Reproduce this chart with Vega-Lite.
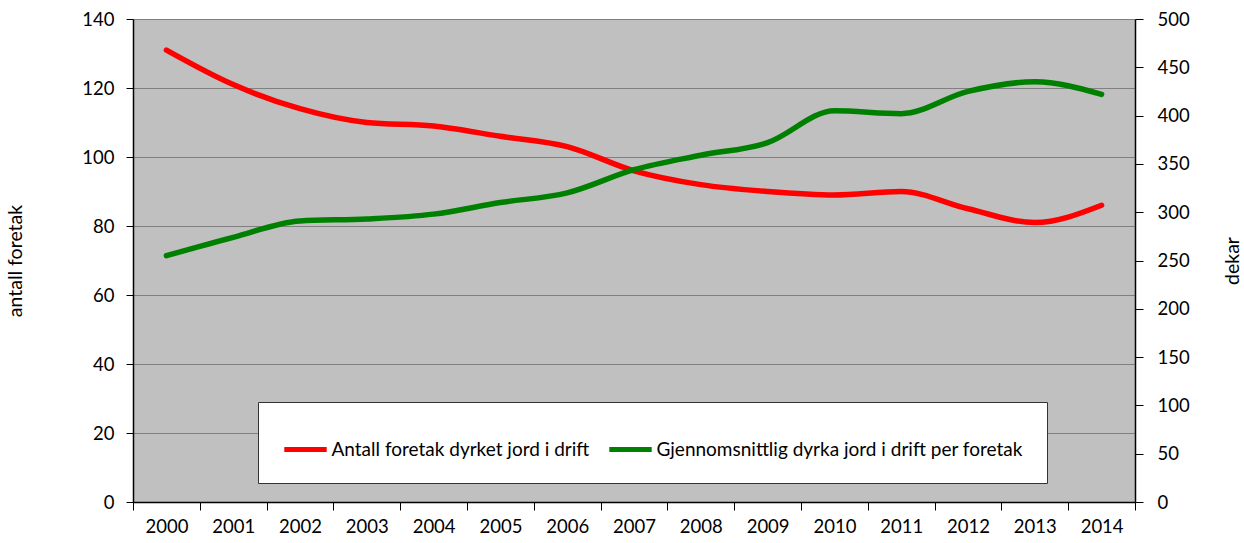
{
  "$schema": "https://vega.github.io/schema/vega-lite/v6.json",
  "width": 1002,
  "height": 483,
  "autosize": "none",
  "padding": {"left": 133, "top": 19, "right": 109, "bottom": 41},
  "background": "white",
  "config": {
    "font": "Lato",
    "view": {"fill": "#c0c0c0", "stroke": null},
    "axis": {"labelFont": "Lato", "titleFont": "Lato", "labelFontSize": 18.5, "titleFontSize": 19.5, "titleFontWeight": "normal", "labelColor": "#000", "titleColor": "#000"}
  },
  "data": {
    "values": [
      {"year": "2000", "series": "Antall foretak dyrket jord i drift", "value": 131},
      {"year": "2001", "series": "Antall foretak dyrket jord i drift", "value": 121},
      {"year": "2002", "series": "Antall foretak dyrket jord i drift", "value": 114},
      {"year": "2003", "series": "Antall foretak dyrket jord i drift", "value": 110},
      {"year": "2004", "series": "Antall foretak dyrket jord i drift", "value": 109},
      {"year": "2005", "series": "Antall foretak dyrket jord i drift", "value": 106},
      {"year": "2006", "series": "Antall foretak dyrket jord i drift", "value": 103},
      {"year": "2007", "series": "Antall foretak dyrket jord i drift", "value": 96},
      {"year": "2008", "series": "Antall foretak dyrket jord i drift", "value": 92},
      {"year": "2009", "series": "Antall foretak dyrket jord i drift", "value": 90},
      {"year": "2010", "series": "Antall foretak dyrket jord i drift", "value": 89},
      {"year": "2011", "series": "Antall foretak dyrket jord i drift", "value": 90},
      {"year": "2012", "series": "Antall foretak dyrket jord i drift", "value": 85},
      {"year": "2013", "series": "Antall foretak dyrket jord i drift", "value": 81},
      {"year": "2014", "series": "Antall foretak dyrket jord i drift", "value": 86},
      {"year": "2000", "series": "Gjennomsnittlig dyrka jord i drift per foretak", "value": 255},
      {"year": "2001", "series": "Gjennomsnittlig dyrka jord i drift per foretak", "value": 274},
      {"year": "2002", "series": "Gjennomsnittlig dyrka jord i drift per foretak", "value": 291},
      {"year": "2003", "series": "Gjennomsnittlig dyrka jord i drift per foretak", "value": 293},
      {"year": "2004", "series": "Gjennomsnittlig dyrka jord i drift per foretak", "value": 298},
      {"year": "2005", "series": "Gjennomsnittlig dyrka jord i drift per foretak", "value": 310},
      {"year": "2006", "series": "Gjennomsnittlig dyrka jord i drift per foretak", "value": 320},
      {"year": "2007", "series": "Gjennomsnittlig dyrka jord i drift per foretak", "value": 344},
      {"year": "2008", "series": "Gjennomsnittlig dyrka jord i drift per foretak", "value": 359},
      {"year": "2009", "series": "Gjennomsnittlig dyrka jord i drift per foretak", "value": 372},
      {"year": "2010", "series": "Gjennomsnittlig dyrka jord i drift per foretak", "value": 405},
      {"year": "2011", "series": "Gjennomsnittlig dyrka jord i drift per foretak", "value": 402},
      {"year": "2012", "series": "Gjennomsnittlig dyrka jord i drift per foretak", "value": 425},
      {"year": "2013", "series": "Gjennomsnittlig dyrka jord i drift per foretak", "value": 435},
      {"year": "2014", "series": "Gjennomsnittlig dyrka jord i drift per foretak", "value": 422}
    ]
  },
  "encoding": {
    "x": {
      "field": "year", "type": "ordinal",
      "scale": {"type": "band", "paddingInner": 0, "paddingOuter": 0},
      "axis": {"title": null, "labelAngle": 0, "tickBand": "extent", "tickColor": "#000", "tickSize": 8, "domainColor": "#000", "domainWidth": 1.5, "labelPadding": 7, "grid": false}
    },
    "color": {
      "field": "series", "type": "nominal",
      "scale": {"domain": ["Antall foretak dyrket jord i drift", "Gjennomsnittlig dyrka jord i drift per foretak"], "range": ["#ff0000", "#008000"]},
      "legend": {
        "title": null, "orient": "none", "legendX": 125, "legendY": 383, "direction": "horizontal",
        "fillColor": "white", "strokeColor": "#333", "padding": 23.5,
        "symbolType": "stroke", "symbolStrokeWidth": 5, "symbolSize": 1800,
        "labelFont": "Lato", "labelFontSize": 19, "labelColor": "#000", "labelLimit": 600, "labelOffset": 2, "columnPadding": 9
      }
    }
  },
  "layer": [
    {
      "transform": [{"filter": "datum.series === 'Antall foretak dyrket jord i drift'"}],
      "mark": {"type": "line", "strokeWidth": 5.5, "interpolate": "monotone", "strokeCap": "round"},
      "encoding": {
        "y": {
          "field": "value", "type": "quantitative",
          "scale": {"domain": [0, 140]},
          "axis": {"title": "antall foretak", "titleAngle": 270, "titleX": -118, "titleBaseline": "middle", "titleAlign": "center", "values": [0, 20, 40, 60, 80, 100, 120, 140], "grid": true, "gridColor": "#808080", "gridWidth": 1, "tickColor": "#000", "tickSize": 7, "domainColor": "#000", "domainWidth": 1.5, "labelPadding": 12}
        }
      }
    },
    {
      "transform": [{"filter": "datum.series === 'Gjennomsnittlig dyrka jord i drift per foretak'"}],
      "mark": {"type": "line", "strokeWidth": 5.5, "interpolate": "monotone", "strokeCap": "round"},
      "encoding": {
        "y": {
          "field": "value", "type": "quantitative",
          "scale": {"domain": [0, 500]},
          "axis": {"orient": "right", "title": "dekar", "titleAngle": 270, "titleX": 97, "titleBaseline": "middle", "titleAlign": "center", "values": [0, 50, 100, 150, 200, 250, 300, 350, 400, 450, 500], "grid": false, "tickColor": "#000", "tickSize": 8, "domainColor": "#000", "domainWidth": 1.5, "labelPadding": 14}
        }
      }
    }
  ],
  "resolve": {"scale": {"y": "independent"}}
}
